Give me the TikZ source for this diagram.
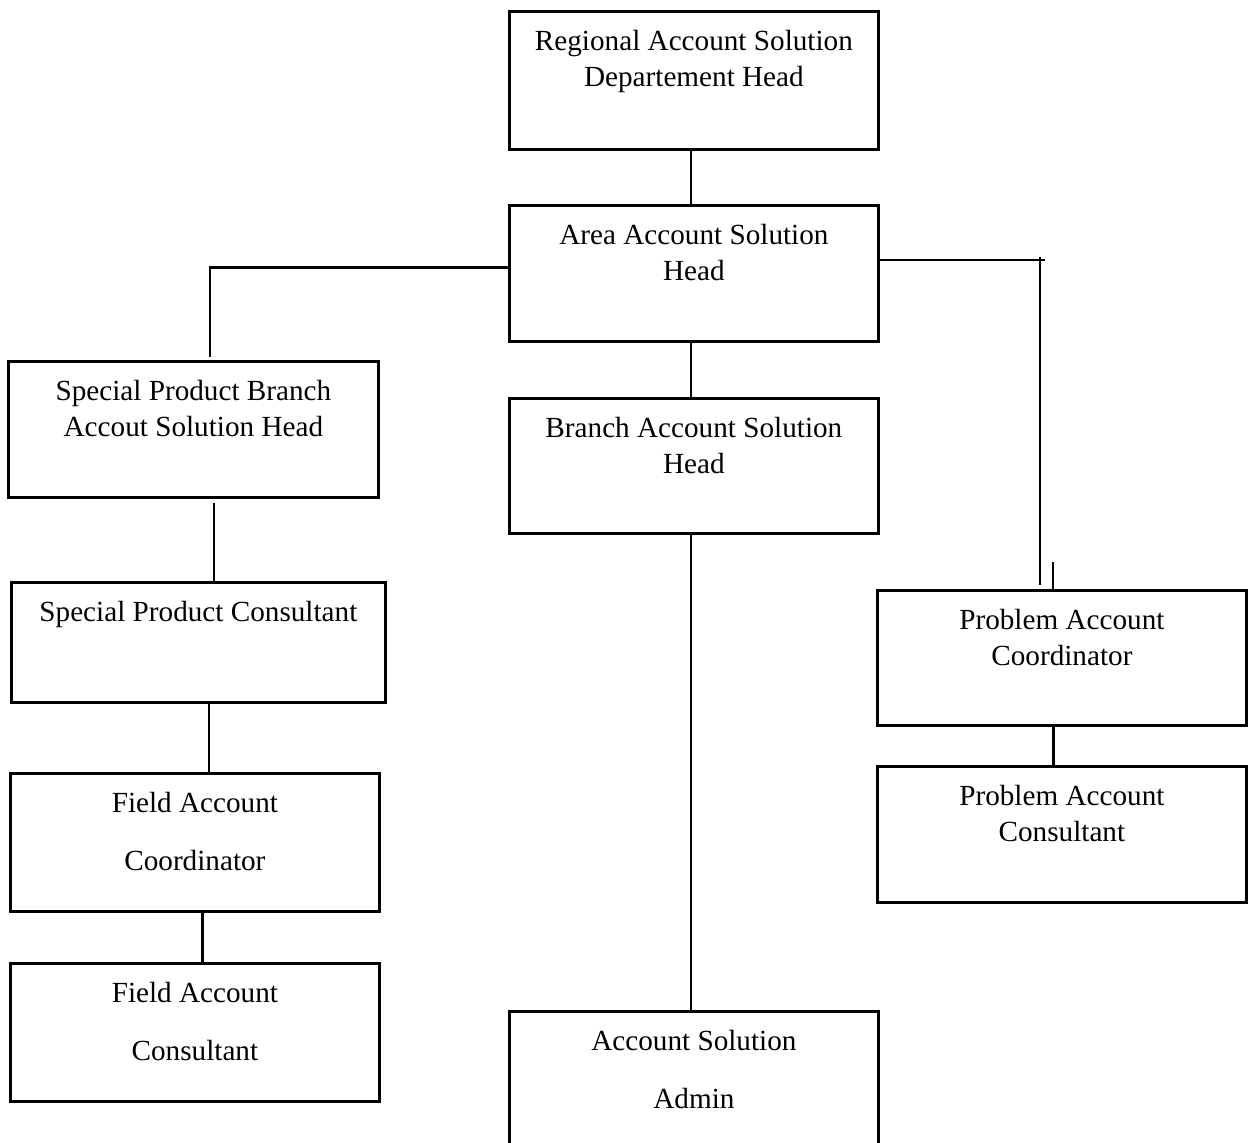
\documentclass[tikz,border=0pt]{standalone}
\usepackage{fontspec}
\setmainfont{Liberation Serif}
\usetikzlibrary{positioning}
\begin{document}
\begin{tikzpicture}[x=0.5pt,y=-0.5pt]
			\tikzstyle{Box}		= [draw, line width=1.4pt, rectangle, anchor=north west, inner sep=0pt]
			\tikzstyle{Label}	= [anchor=north, align=center, inner sep=0pt, font=\fontsize{14.6}{18}\selectfont]
			\tikzstyle{Link}	= [line width=1.4pt]
			\tikzstyle{Tick}	= [line width=1pt]

			\useasboundingbox (0,0) rectangle (1253,1142);
			\foreach \n/\x/\y/\w/\h in {reg/508/10/369/138, area/508/204/369/136, branch/508/397/369/135, spb/7/360/370/136, spc/10/581/374/120, fac/9/772/369/138, fcons/9/962/369/138, admin/508/1010/369/170, pac/876/589/369/135, pcons/876/765/369/136}
				\node (\n) at (\x, \y) [Box][minimum width=\w*0.5pt, minimum height=\h*0.5pt] {};

			\node (regT) at ([yshift=-10pt]reg.north) [Label] {Regional Account Solution\\Departement Head};
			\node (areaT) at ([yshift=-10pt]area.north) [Label] {Area Account Solution\\Head};
			\node (branchT) at ([yshift=-10pt]branch.north) [Label] {Branch Account Solution\\Head};
			\node (spbT) at ([yshift=-10pt]spb.north) [Label] {Special Product Branch\\Accout Solution Head};
			\node (spcT) at ([yshift=-10pt]spc.north) [Label] {Special Product Consultant};
			\node (facT) at ([yshift=-10pt]fac.north) [Label] {Field Account\\[11pt]Coordinator};
			\node (fconsT) at ([yshift=-10pt]fcons.north) [Label] {Field Account\\[11pt]Consultant};
			\node (adminT) at ([yshift=-10pt]admin.north) [Label] {Account Solution\\[11pt]Admin};
			\node (pacT) at ([yshift=-10pt]pac.north) [Label] {Problem Account\\Coordinator};
			\node (pconsT) at ([yshift=-10pt]pcons.north) [Label] {Problem Account\\Consultant};

			\coordinate (spbTop) at (210, 357);
			\coordinate (rEnd) at (1045, 260);
			\coordinate (rCorner) at (1040, 257);
			\coordinate (rFoot) at (1040, 585);
			\coordinate (rTick) at (1053, 562);
			\coordinate (spbFoot) at (214, 503);
			\coordinate (spcFoot) at (209, 702);

			\draw [Link] ([xshift=-1.5pt]reg.south) -- ([xshift=-1.5pt]area.north);
			\draw [Link] ([xshift=-1.5pt]area.south) -- ([xshift=-1.5pt]branch.north);
			\draw [Link] ([xshift=-1.5pt]branch.south) -- ([xshift=-1.5pt]admin.north);
			\draw [Link] ([yshift=3pt]area.west) -| (spbTop);
			\draw [Link] (area.east |- rEnd) -- (rEnd);
			\draw [Link] (rCorner) -- (rFoot);
			\draw [Tick] (rTick) -- (rTick |- pac.north);
			\draw [Link] (spbFoot) -- (spbFoot |- spc.north);
			\draw [Link] (spcFoot) -- (spcFoot |- fac.north);
			\draw [Link] ([xshift=3.75pt]fac.south) -- ([xshift=3.75pt]fcons.north);
			\draw [Link] ([xshift=-4.25pt]pac.south) -- ([xshift=-4.25pt]pcons.north);
\end{tikzpicture}
\end{document}
